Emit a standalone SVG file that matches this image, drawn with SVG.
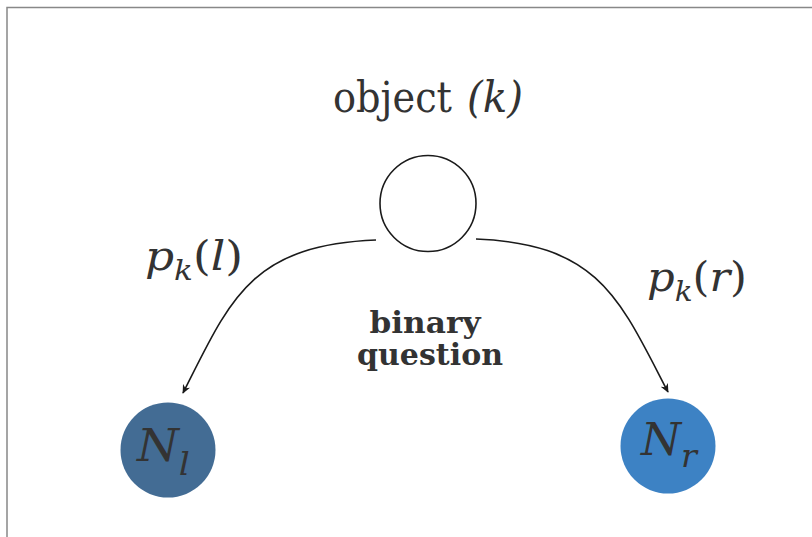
<svg xmlns="http://www.w3.org/2000/svg" width="812" height="537" viewBox="0 0 812 537">
<defs>
<style>
.t{font-family:"DejaVu Serif","Liberation Serif",serif;fill:#333333}
.i{font-style:italic}
.b{font-weight:bold}
.edge{fill:none;stroke:#1a1a1a;stroke-width:1.6}
</style>
<marker id="ah" viewBox="0 0 10 10" refX="9" refY="5" markerWidth="9" markerHeight="9" markerUnits="userSpaceOnUse" orient="auto">
<path d="M0,0.5 L10,5 L0,9.5 L3,5 Z" fill="#1a1a1a"/>
</marker>
</defs>
<rect x="0" y="0" width="812" height="537" fill="#ffffff"/>
<path d="M7,537 V7.5 H812" fill="none" stroke="#888888" stroke-width="1.5"/>
<g id="root">
<circle cx="428" cy="203.5" r="48" fill="#ffffff" stroke="#1a1a1a" stroke-width="1.6"/>
<text class="t" x="333" y="112" font-size="42" textLength="119" lengthAdjust="spacingAndGlyphs">object</text>
<text class="t i" x="467" y="112" font-size="42" textLength="56" lengthAdjust="spacingAndGlyphs">(k)</text>
</g>
<g id="left-node">
<circle cx="168" cy="450" r="47.5" fill="#436c94"/>
<text class="t i" x="137" y="461" font-size="44" textLength="53" lengthAdjust="spacingAndGlyphs">N<tspan font-size="32" dy="14">l</tspan></text>
</g>
<g id="right-node">
<circle cx="668" cy="446" r="47.5" fill="#3d82c4"/>
<text class="t i" x="641" y="455" font-size="44" textLength="56" lengthAdjust="spacingAndGlyphs">N<tspan font-size="32" dy="12">r</tspan></text>
</g>
<g id="question-label">
<text class="t b" x="425" y="333" text-anchor="middle" font-size="29" textLength="111" lengthAdjust="spacingAndGlyphs">binary</text>
<text class="t b" x="430" y="365" text-anchor="middle" font-size="29" textLength="146" lengthAdjust="spacingAndGlyphs">question</text>
</g>
<g id="connectors">
<path class="edge" d="M376,240 C250,245 230,300 183,393" marker-end="url(#ah)"/>
<path class="edge" d="M476,239 C600,244 620,300 668,392" marker-end="url(#ah)"/>
<text class="t i" x="145" y="270" font-size="41" textLength="98" lengthAdjust="spacingAndGlyphs">p<tspan font-size="28" dy="10">k</tspan><tspan dy="-10" font-style="normal">(</tspan>l<tspan font-style="normal">)</tspan></text>
<text class="t i" x="647" y="291" font-size="41" textLength="100" lengthAdjust="spacingAndGlyphs">p<tspan font-size="28" dy="10">k</tspan><tspan dy="-10" font-style="normal">(</tspan>r<tspan font-style="normal">)</tspan></text>
</g>
</svg>
